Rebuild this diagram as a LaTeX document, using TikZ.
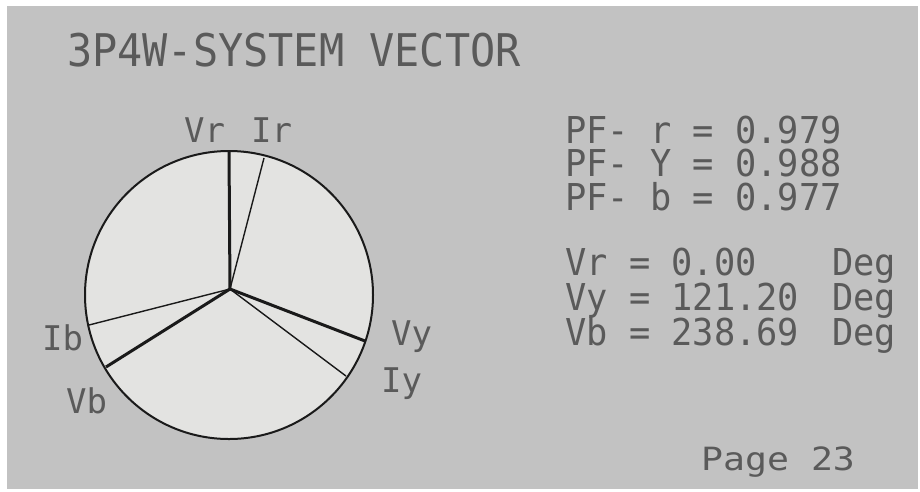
\documentclass[tikz,border=0pt]{standalone}
\usepackage{fontspec}
\newfontfamily\lcd{DejaVu Sans Mono}
\definecolor{bggray}{HTML}{C2C2C2}
\definecolor{dialfill}{HTML}{E3E3E1}
\definecolor{lcdtext}{HTML}{5A5A5A}
\definecolor{inkline}{HTML}{1A1A1A}
\tikzset{
  lcdlabel/.style={inner sep=0pt, anchor=base west, text=lcdtext},
  phasev/.style={draw=inkline, line width=3pt},
  phasei/.style={draw=inkline, line width=1.4pt},
}
\newcommand{\lcdtxt}[3]{{\lcd\fontsize{#1}{#1}\selectfont\scalebox{#2}[1]{#3}}}
\newcommand{\lcdrows}[2]{\vtop{\baselineskip=#1\lineskiplimit=-100pt\lineskip=0pt #2}}
\newcommand{\degrow}[1]{\hbox{\makebox[279.6pt][l]{#1}Deg}}
\begin{document}
\begin{tikzpicture}[x=1pt,y=-1pt]
\useasboundingbox (0,0) rectangle (920,491);
\fill[white] (0,0) rectangle (920,491);
\fill[bggray] (7,6) rectangle (918,489);

% title
\node[lcdlabel] (title) at (67,66) {\lcdtxt{45}{0.93}{3P4W-SYSTEM VECTOR}};

% dial
\coordinate (c) at (229,295);
\coordinate (hub) at (230,289);
\fill[dialfill] (c) circle (144);
\coordinate (eVr) at (229,152);
\coordinate (eIr) at (264,158);
\coordinate (eVy) at (365,341);
\coordinate (eIy) at (346,376);
\coordinate (eIb) at (89,325);
\coordinate (eVb) at (106,367);
\draw[phasei] (hub) -- (eIr);
\draw[phasei] (hub) -- (eIy);
\draw[phasei] (hub) -- (eIb);
\draw[phasev] (hub) -- (eVr);
\draw[phasev] (hub) -- (eVy);
\draw[phasev] (hub) -- (eVb);
\draw[draw=inkline, line width=2pt] (c) circle (144);

% vector labels
\node[lcdlabel] (lVr) at (184,142) {\lcdtxt{34}{1}{Vr}};
\node[lcdlabel] (lIr) at (251,142) {\lcdtxt{34}{1}{Ir}};
\node[lcdlabel] (lVy) at (391,345) {\lcdtxt{34}{1}{Vy}};
\node[lcdlabel] (lIy) at (381,392) {\lcdtxt{34}{1}{Iy}};
\node[lcdlabel] (lIb) at (42,350) {\lcdtxt{34}{1}{Ib}};
\node[lcdlabel] (lVb) at (66,413) {\lcdtxt{34}{1}{Vb}};

% power factors
\node[lcdlabel] (pf) at (565,143) {\lcdtxt{37}{0.955}{\lcdrows{33.5pt}{%
  \hbox{PF- r = 0.979}\hbox{PF- Y = 0.988}\hbox{PF- b = 0.977}}}};

% angles
\node[lcdlabel] (ang) at (565,275) {\lcdtxt{37}{0.955}{\lcdrows{35pt}{%
  \degrow{Vr = 0.00}\degrow{Vy = 121.20}\degrow{Vb = 238.69}}}};

% page
\node[lcdlabel] (page) at (701,470) {\lcdtxt{32}{1.14}{Page 23}};
\end{tikzpicture}
\end{document}
